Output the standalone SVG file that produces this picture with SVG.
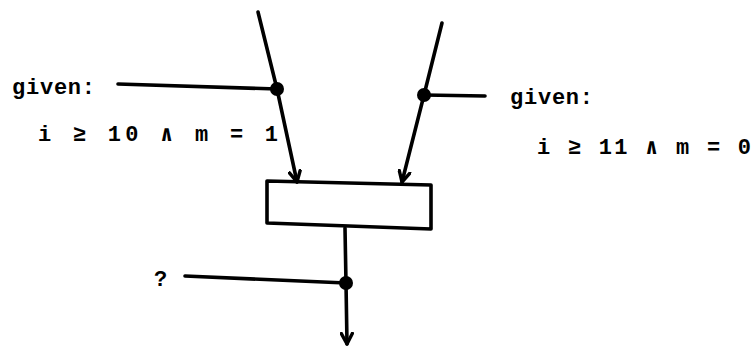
<svg xmlns="http://www.w3.org/2000/svg" width="756" height="349" viewBox="0 0 756 349">
<style>
.ln{stroke:#000;stroke-width:3.6;fill:none;stroke-linecap:round;stroke-linejoin:round}
.t{font-family:"Liberation Mono","DejaVu Sans Mono",monospace;font-weight:bold;font-size:22px;fill:#000}
.dot{fill:#000}
</style>
<defs>
<marker id="ah" viewBox="0 0 14 14" refX="12" refY="7" markerWidth="14" markerHeight="14" markerUnits="userSpaceOnUse" orient="auto">
<path d="M1.5,1.5 L12,7 L1.5,12.5" fill="none" stroke="#000" stroke-width="3.4" stroke-linecap="round" stroke-linejoin="round"/>
</marker>
</defs>
<g id="connectors">
<path class="ln" d="M258,12 L277,89 L297,182" marker-end="url(#ah)"/>
<path class="ln" d="M442,23 L424,95 L402,182" marker-end="url(#ah)"/>
<path class="ln" d="M118,84 L277,89"/>
<path class="ln" d="M424,95 L485,96"/>
<path class="ln" d="M345,228 L346,283 L347,344" marker-end="url(#ah)"/>
<path class="ln" d="M185,276 L346,283"/>
<circle class="dot" cx="277" cy="89" r="7"/>
<circle class="dot" cx="424" cy="95" r="7"/>
<circle class="dot" cx="346" cy="283" r="7"/>
</g>
<g id="box">
<path class="ln" d="M267,181 L431,185 L431,229 L267,223 Z" stroke-width="3.8"/>
</g>
<g id="label-left">
<text class="t" x="12" y="94" textLength="83" lengthAdjust="spacing">given:</text>
<text class="t" x="38" y="141" textLength="240" lengthAdjust="spacing" xml:space="preserve">i ≥ 10 ∧ m = 1</text>
</g>
<g id="label-right">
<text class="t" x="510" y="104" textLength="83" lengthAdjust="spacing">given:</text>
<text class="t" x="537" y="154" textLength="214" lengthAdjust="spacing" xml:space="preserve">i ≥ 11 ∧ m = 0</text>
</g>
<g id="label-q">
<text class="t" x="154" y="286">?</text>
</g>
</svg>
